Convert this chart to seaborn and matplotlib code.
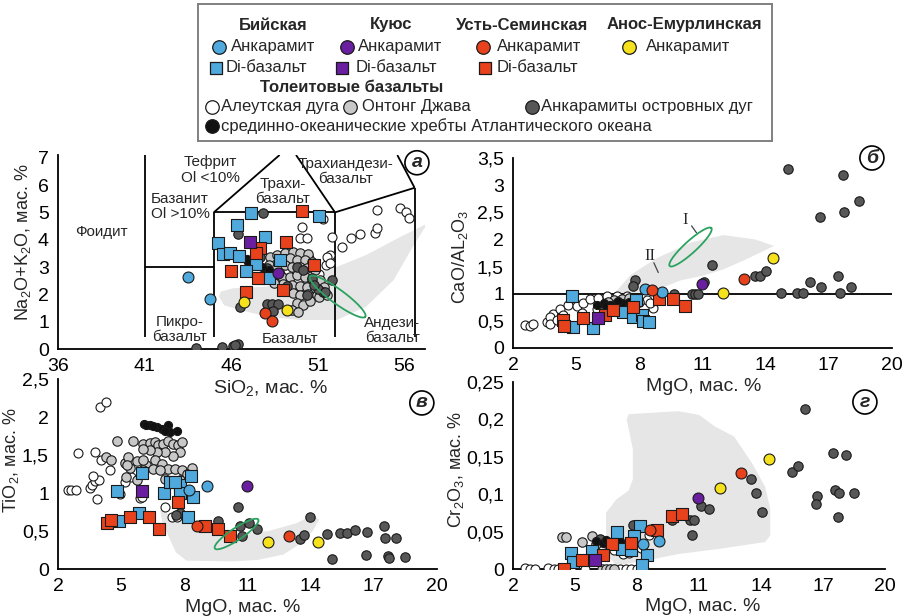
import matplotlib
matplotlib.use("Agg")
import matplotlib.pyplot as plt
import numpy as np
import seaborn as sns

BLUE = "#4fa9dc"
PURPLE = "#6a1ea0"
RED = "#e8421d"
YELLOW = "#f6e21c"
DARK = "#575757"
LIGHT = "#c8c8c8"
WHITE = "#ffffff"
BLACK = "#111111"
FIELD = "#e6e6e6"
GREEN = "#2ba360"

# ---------------- panel a: TAS (SiO2 vs Na2O+K2O)
bii_ank_a_x = [43.5, 44.8]
bii_ank_a_y = [2.65, 1.82]
bii_di_a_x = [47.16, 51.05, 46.33, 47.97, 45.27, 45.56, 45.94, 46.48, 47.45, 46.85, 48.83, 48.16]
bii_di_a_y = [4.97, 4.88, 4.52, 4.11, 3.87, 3.47, 3.50, 3.42, 3.10, 2.86, 3.26, 2.61]
kuy_ank_a_x, kuy_ank_a_y = [48.68], [2.77]
kuy_di_a_x, kuy_di_a_y = [47.10], [3.93]
ust_ank_a_x, ust_ank_a_y = [47.97, 48.35], [1.31, 1.02]
ust_di_a_x = [50.09, 49.16, 47.64, 47.45, 45.98, 47.58, 49.02, 50.76, 46.87]
ust_di_a_y = [5.05, 3.90, 3.71, 3.50, 2.86, 2.61, 2.16, 3.08, 2.07]
anos_ank_a_x, anos_ank_a_y = [46.75, 49.25], [1.71, 1.43]
aleut_a_x = [50.09, 50.0, 50.4, 51.3, 51.8, 52.4, 52.9, 53.45, 54.3, 54.4, 54.4, 55.77, 56.1, 56.25,
             51.7, 51.5, 49.3, 49.0, 50.5, 50.3, 51.05, 50.7, 51.53, 51.72, 49.3]
aleut_a_y = [4.48, 4.08, 4.08, 4.75, 4.11, 3.75, 4.08, 4.2, 4.26, 5.09, 4.42, 5.15, 5.03, 4.79,
             3.44, 3.08, 2.89, 2.59, 3.32, 3.2, 2.75, 2.45, 3.38, 3.14, 2.59]
ontong_a_x = [48.25, 48.64, 49.12, 49.60, 49.99, 50.47, 49.41, 49.80, 50.28, 50.66, 48.16, 48.64, 49.12,
              49.51, 49.99, 50.37, 50.86, 48.45, 48.93, 49.41, 49.80, 50.28, 50.66, 51.14, 49.02, 49.51,
              49.99, 50.37, 50.86, 51.34, 49.60, 49.99, 50.47, 50.95, 49.80, 50.18, 50.57, 49.51, 49.89,
              51.05, 51.53, 48.45, 48.06]
ontong_a_y = [3.38, 3.44, 3.50, 3.56, 3.50, 3.47, 3.32, 3.26, 3.26, 3.20, 3.08, 3.01, 3.08,
              3.01, 3.01, 2.95, 2.89, 2.71, 2.65, 2.65, 2.71, 2.65, 2.59, 2.53, 2.37, 2.34,
              2.32, 2.28, 2.25, 2.28, 2.04, 1.98, 2.00, 1.98, 1.67, 1.61, 1.76, 1.43, 1.37,
              1.92, 1.98, 2.40, 2.65]
arc_a_x = [47.83, 46.39, 48.06, 48.35, 48.7, 48.4, 46.5, 49.8, 51.3, 51.0, 51.8, 50.4, 48.06, 47.2,
           47.65, 49.2, 50.7, 43.98, 45.46, 46.13, 46.42, 46.25, 50.18, 50.8, 51.43]
arc_a_y = [4.97, 4.2, 1.63, 1.63, 1.63, 1.4, 1.52, 3.0, 2.1, 2.2, 2.53, 1.98, 2.98, 3.22,
           3.35, 2.3, 2.55, 0.05, 0.09, 0.11, 0.18, 0.14, 2.89, 2.34, 2.1]
morb_a_x = [46.9, 47.2, 47.5, 47.8, 48.2, 47.0]
morb_a_y = [3.3, 3.25, 3.1, 3.0, 2.9, 3.2]
field_a_x = [45.3, 45.6, 46.5, 48.0, 50.0, 52.1, 53.8, 55.4, 56.5, 57.2, 57.2, 55.8, 53.8, 51.9, 50.0, 48.0, 46.1, 45.4]
field_a_y = [1.92, 1.6, 1.43, 1.2, 1.06, 1.06, 1.55, 2.53, 3.75, 4.45, 4.55, 4.11, 3.44, 2.95, 2.53, 2.28, 2.22, 2.1]
tas_lines = [
    ([41, 41], [0.45, 7.1]), ([41, 45], [3, 3]), ([45, 45], [0.45, 5]), ([45, 52], [5, 5]),
    ([52, 52], [0.45, 5]), ([45, 48.8], [5, 7.1]), ([52, 49.75], [5, 7.1]), ([52, 56.6], [5, 5.9]),
    ([56.6, 56.6], [0.45, 5.9]), ([56.6, 55.6], [5.9, 7.1]),
]
tas_names = [
    ("Фоидит", 38.5, 4.3), ("Тефрит\nOl <10%", 44.8, 6.55), ("Базанит\nOl >10%", 43.05, 5.2),
    ("Трахи-\nбазальт", 49.0, 5.76), ("Трахиандези-\nбазальт", 52.6, 6.48), ("Пикро-\nбазальт", 43.05, 0.7),
    ("Базальт", 49.4, 0.35), ("Андези-\nбазальт", 55.3, 0.67),
]

# ---------------- panel б: MgO vs CaO/Al2O3
bii_ank_b_x, bii_ank_b_y = [8.27, 9.06], [1.09, 1.03]
bii_di_b_x = [4.79, 4.87, 5.81, 7.24, 7.71, 7.83, 8.11, 8.19, 8.46]
bii_di_b_y = [0.96, 0.39, 0.36, 0.67, 0.58, 0.88, 0.61, 0.49, 0.48]
kuy_ank_b_x, kuy_ank_b_y = [10.99], [1.18]
kuy_di_b_x, kuy_di_b_y = [6.02], [0.56]
ust_ank_b_x, ust_ank_b_y = [8.61, 12.98], [1.06, 1.28]
ust_di_b_x = [4.39, 4.41, 5.34, 6.37, 6.76, 7.71, 8.93, 9.61, 10.17]
ust_di_b_y = [0.52, 0.41, 0.55, 0.61, 0.70, 0.76, 0.90, 0.91, 0.77]
anos_ank_b_x, anos_ank_b_y = [11.98, 14.33], [1.01, 1.66]
arc_b_x = [15.07, 17.68, 18.44, 17.73, 16.57, 11.43, 7.79, 7.71, 13.49, 13.72, 14.0, 14.75, 15.47, 15.75,
           16.1, 16.65, 17.44, 17.52, 18.04, 10.48, 10.64, 10.8, 11.08, 9.66]
arc_b_y = [3.30, 3.19, 2.70, 2.50, 2.41, 1.53, 1.26, 1.15, 1.32, 1.32, 1.42, 1.01, 1.01, 1.01,
           1.21, 1.12, 1.32, 1.01, 1.12, 1.0, 1.0, 1.0, 1.22, 1.0]
aleut_b_x = [2.57, 2.81, 2.93, 3.60, 3.91, 4.23, 4.63, 5.02, 5.34, 5.65, 6.05, 6.45, 6.92, 7.40, 7.87, 8.35,
             8.66, 6.6, 7.24, 6.29, 5.26, 5.97, 3.76, 4.39, 8.5, 3.75, 4.1]
aleut_b_y = [0.43, 0.40, 0.45, 0.47, 0.63, 0.71, 0.80, 0.77, 0.83, 0.90, 0.93, 0.96, 0.95, 0.95, 0.93, 0.89,
             0.74, 0.80, 0.80, 0.77, 0.64, 0.71, 0.58, 0.61, 0.83, 0.45, 0.52]
ontong_b_x = [6.8, 7.2, 7.5, 7.8, 8.0, 6.5]
ontong_b_y = [0.88, 0.90, 0.92, 0.90, 0.85, 0.85]
morb_b_x = [6.0, 6.3, 6.6, 6.9, 7.2, 7.5, 6.4, 6.8, 7.0]
morb_b_y = [0.80, 0.82, 0.80, 0.83, 0.82, 0.85, 0.78, 0.78, 0.86]
field_b_x = [6.8, 7.6, 8.8, 10.5, 12.0, 13.5, 14.4, 13.0, 12.0, 11.0, 10.0, 9.0, 8.0, 7.0]
field_b_y = [1.0, 1.35, 1.65, 1.95, 2.08, 2.0, 1.88, 1.62, 1.45, 1.33, 1.25, 1.1, 1.02, 0.98]

# ---------------- panel в: MgO vs TiO2
bii_ank_c_x, bii_ank_c_y = [8.23, 9.06], [1.04, 1.09]
bii_di_c_x = [4.78, 6.01, 7.03, 7.31, 7.79, 7.79, 8.30, 8.42, 5.85, 4.90, 8.18, 7.58]
bii_di_c_y = [1.02, 1.26, 1.00, 1.15, 1.11, 1.00, 1.22, 0.95, 0.74, 0.63, 0.69, 1.15]
kuy_ank_c_x, kuy_ank_c_y = [10.96], [1.09]
kuy_di_c_x, kuy_di_c_y = [6.01], [1.02]
ust_ank_c_x, ust_ank_c_y = [8.58, 12.99], [0.57, 0.43]
ust_di_c_x = [4.33, 4.54, 5.41, 6.33, 6.79, 7.71, 8.98, 9.61, 10.17]
ust_di_c_y = [0.60, 0.65, 0.69, 0.68, 0.52, 0.88, 0.57, 0.53, 0.44]
anos_ank_c_x, anos_ank_c_y = [11.99, 14.34], [0.35, 0.35]
arc_c_x = [10.56, 10.64, 11.09, 11.44, 10.72, 9.61, 7.79, 7.60, 13.97, 13.50, 13.69, 14.77, 15.40, 15.72,
           16.11, 16.67, 17.49, 17.54, 18.06, 15.00, 16.64, 17.67, 17.70, 18.46]
arc_c_y = [0.82, 0.57, 0.60, 0.53, 0.43, 0.63, 0.74, 0.71, 0.68, 0.39, 0.45, 0.46, 0.47, 0.48,
           0.51, 0.49, 0.56, 0.41, 0.41, 0.13, 0.18, 0.17, 0.15, 0.16]
aleut_c_x = [3.98, 4.30, 2.48, 2.64, 2.84, 2.95, 3.75, 4.46, 3.83, 3.50, 3.60, 3.75, 3.96, 5.49, 5.89,
             4.94, 7.08, 7.40, 7.63, 4.06, 3.67, 6.0, 5.2]
aleut_c_y = [2.13, 2.20, 1.04, 1.04, 1.04, 1.53, 1.54, 1.30, 0.92, 1.06, 1.10, 1.16, 1.17, 1.21, 0.93,
             0.99, 0.82, 0.69, 0.69, 1.44, 1.22, 0.95, 1.15]
ontong_c_x = [4.78, 5.54, 6.05, 6.36, 6.60, 6.76, 7.0, 7.24, 7.47, 7.71, 7.87, 7.79, 7.47, 7.08, 6.68, 6.36,
              6.05, 6.60, 6.92, 7.24, 7.55, 7.87, 8.35, 6.20, 6.52, 6.84, 6.05, 8.11, 7.79, 7.08, 5.73,
              5.17, 5.41, 4.30, 4.54, 5.73, 5.33, 5.28, 5.25, 6.05]
ontong_c_y = [1.68, 1.68, 1.65, 1.66, 1.67, 1.63, 1.65, 1.69, 1.65, 1.63, 1.67, 1.54, 1.49, 1.54, 1.54, 1.56,
              1.58, 1.43, 1.38, 1.32, 1.31, 1.30, 1.33, 1.37, 1.32, 1.30, 1.30, 1.25, 1.17, 1.19, 1.17,
              1.40, 1.33, 1.47, 1.43, 1.42, 1.47, 1.37, 1.21, 1.43]
morb_c_x = [6.08, 6.36, 6.68, 6.92, 7.23, 7.31, 7.63, 7.07, 6.2, 6.5]
morb_c_y = [1.91, 1.89, 1.87, 1.84, 1.89, 1.80, 1.82, 1.82, 1.90, 1.88]
field_c_x = [6.85, 7.5, 8.7, 10.5, 12.0, 13.3, 14.1, 14.4, 14.1, 13.5, 12.7, 11.5, 10.3, 8.1, 7.6, 7.3, 6.95]
field_c_y = [0.78, 0.68, 0.55, 0.46, 0.50, 0.60, 0.71, 0.65, 0.50, 0.33, 0.19, 0.12, 0.10, 0.11, 0.22, 0.40, 0.62]

# ---------------- panel г: MgO vs Cr2O3
bii_ank_d_x, bii_ank_d_y = [9.06, 8.30], [0.037, 0.033]
bii_di_d_x = [7.05, 8.13, 7.86, 8.46, 8.25, 7.28, 7.70, 5.83, 4.79, 4.90]
bii_di_d_y = [0.050, 0.057, 0.044, 0.019, 0.006, 0.027, 0.026, 0.024, 0.022, 0.010]
kuy_ank_d_x, kuy_ank_d_y = [10.96], [0.095]
kuy_di_d_x, kuy_di_d_y = [5.99], [0.012]
ust_ank_d_x, ust_ank_d_y = [8.62, 13.03], [0.052, 0.129]
ust_di_d_x = [9.67, 10.19, 8.99, 6.80, 7.73, 6.36, 5.36, 4.47]
ust_di_d_y = [0.071, 0.073, 0.052, 0.033, 0.035, 0.019, 0.012, 0.0]
anos_ank_d_x, anos_ank_d_y = [12.01, 14.40], [0.108, 0.147]
arc_d_x = [16.13, 17.50, 18.10, 15.48, 15.80, 17.58, 17.77, 18.50, 16.69, 16.64, 17.71, 13.54, 13.75, 14.06,
           11.12, 11.48, 10.56, 10.77, 10.64, 9.67, 7.81, 6.2, 6.5]
arc_d_y = [0.214, 0.155, 0.152, 0.130, 0.138, 0.106, 0.101, 0.101, 0.098, 0.087, 0.070, 0.120, 0.102, 0.076,
           0.084, 0.080, 0.066, 0.066, 0.046, 0.065, 0.059, 0.040, 0.035]
aleut_d_x = [2.57, 2.81, 3.05, 3.70, 3.99, 4.20, 4.83, 5.47, 7.20, 7.45, 7.70, 8.00, 6.9, 7.3, 7.6, 7.9, 8.2, 8.6]
aleut_d_y = [0.002, 0.0, 0.0, 0.002, 0.0, 0.0, 0.0, 0.0, 0.0, 0.0, 0.0, 0.0, 0.025, 0.02, 0.022, 0.03, 0.028, 0.045]
ontong_d_x = [4.37, 4.58, 5.34, 5.83, 6.28, 6.30, 6.50, 6.70, 6.90, 6.0, 7.2, 7.6]
ontong_d_y = [0.043, 0.043, 0.036, 0.044, 0.039, 0.0, 0.0, 0.0, 0.0, 0.033, 0.030, 0.028]
morb_d_x = [6.04, 6.36, 6.68, 7.00, 7.41, 7.73, 6.52, 7.17]
morb_d_y = [0.037, 0.035, 0.036, 0.032, 0.034, 0.036, 0.039, 0.037]
field_d_x = [7.6, 10.0, 11.0, 11.8, 12.7, 13.6, 14.2, 14.45, 14.45, 14.2, 12.0, 10.0, 8.2, 7.0, 6.5, 6.5,
             7.0, 7.6, 7.8, 7.8, 7.5]
field_d_y = [0.207, 0.211, 0.206, 0.19, 0.177, 0.14, 0.11, 0.08, 0.045, 0.036, 0.027, 0.02, 0.01, 0.005,
             0.02, 0.075, 0.093, 0.105, 0.12, 0.16, 0.2]

# green contours: centre, half major axis vector, half minor axis vector (data units)
ring_a = ((52.15, 1.92), (1.6, -0.74), (0.24, 0.21))
ring_b = ((10.43, 1.86), (0.99, 0.35), (-0.19, 0.081))
ring_c = ((10.48, 0.46), (1.03, 0.19), (-0.159, 0.066))

sns.set_style("white")
plt.rcParams["font.family"] = ["Liberation Sans", "DejaVu Sans"]
plt.rcParams["mathtext.default"] = "regular"

S_CIRC, S_SQ, S_ARC, S_WHITE, S_LIGHT, S_MORB = 62, 72, 46, 42, 46, 34


def pts(ax, xs, ys, face, marker="o", size=S_CIRC, z=3):
    sns.scatterplot(x=np.asarray(xs, float), y=np.asarray(ys, float), ax=ax, color=face, marker=marker,
                    s=size, edgecolor="#1a1a1a", linewidth=0.8, zorder=z, legend=False)


def ring(ax, spec):
    (cx, cy), (ax_, ay), (bx, by) = spec
    t = np.linspace(0, 2 * np.pi, 200)
    ax.plot(cx + ax_ * np.cos(t) + bx * np.sin(t), cy + ay * np.cos(t) + by * np.sin(t),
            color=GREEN, lw=1.3, zorder=6)


def comma(vals, fmt="{:g}"):
    return [fmt.format(v).replace(".", ",") for v in vals]


def style(ax, xlim, ylim, xticks, yticks, xlabel, ylabel, xl_pos, yl_pos):
    ax.set_xlim(xlim)
    ax.set_ylim(ylim)
    ax.patch.set_alpha(0)
    sns.despine(ax=ax)
    for s in ("left", "bottom"):
        ax.spines[s].set_linewidth(1.3)
        ax.spines[s].set_color("black")
    ax.set_xticks(xticks)
    ax.set_xticklabels(comma(xticks))
    ax.set_yticks(yticks)
    ax.set_yticklabels(comma(yticks))
    ax.tick_params(direction="inout", length=7, width=1.2, labelsize=14, pad=3, colors="black")
    ax.set_xlabel(xlabel, fontsize=14)
    ax.set_ylabel(ylabel, fontsize=13)
    ax.xaxis.set_label_coords(*xl_pos)
    ax.yaxis.set_label_coords(*yl_pos)
    ax.xaxis.label.set_va("center")
    ax.yaxis.label.set_va("center")


def badge(ax, letter, x, y):
    ax.text(x, y, letter, transform=ax.transAxes, ha="center", va="center", fontsize=14,
            fontweight="bold", fontstyle="italic", zorder=10, clip_on=False,
            bbox=dict(boxstyle="circle,pad=0.18", fc="white", ec="black", lw=1.2))


def groups(ax, d):
    # background reference series first, then the studied rocks on top
    pts(ax, d["aleut"][0], d["aleut"][1], WHITE, size=S_WHITE)
    pts(ax, d["ontong"][0], d["ontong"][1], LIGHT, size=S_LIGHT)
    pts(ax, d["arc"][0], d["arc"][1], DARK, size=S_ARC)
    pts(ax, d["morb"][0], d["morb"][1], BLACK, size=S_MORB)
    pts(ax, d["bii_di"][0], d["bii_di"][1], BLUE, "s", S_SQ, 4)
    pts(ax, d["ust_di"][0], d["ust_di"][1], RED, "s", S_SQ, 4)
    pts(ax, d["kuy_di"][0], d["kuy_di"][1], PURPLE, "s", S_SQ, 4)
    pts(ax, d["bii_ank"][0], d["bii_ank"][1], BLUE, z=4)
    pts(ax, d["kuy_ank"][0], d["kuy_ank"][1], PURPLE, z=4)
    pts(ax, d["ust_ank"][0], d["ust_ank"][1], RED, z=4)
    pts(ax, d["anos_ank"][0], d["anos_ank"][1], YELLOW, z=4)


fig = plt.figure(figsize=(9.12, 6.16), dpi=100)
W, H = 912, 616


def box(l, r, t, b):
    return [l / W, 1 - b / H, (r - l) / W, (b - t) / H]


ax_a = fig.add_axes(box(58, 425, 155, 349))
ax_b = fig.add_axes(box(513, 892, 158, 348))
ax_c = fig.add_axes(box(58, 437, 379, 569))
ax_d = fig.add_axes(box(513, 885, 382, 569))

# panel a
ax_a.fill(field_a_x, field_a_y, color=FIELD, lw=0, zorder=1)
for xs, ys in tas_lines:
    ax_a.plot(xs, ys, color="black", lw=1.3, zorder=2, solid_capstyle="butt")
for name, x, y in tas_names:
    ax_a.text(x, y, name, ha="center", va="center", fontsize=11, linespacing=1.1, zorder=2)
groups(ax_a, dict(aleut=(aleut_a_x, aleut_a_y), ontong=(ontong_a_x, ontong_a_y), arc=(arc_a_x, arc_a_y),
                  morb=(morb_a_x, morb_a_y), bii_di=(bii_di_a_x, bii_di_a_y), ust_di=(ust_di_a_x, ust_di_a_y),
                  kuy_di=(kuy_di_a_x, kuy_di_a_y), bii_ank=(bii_ank_a_x, bii_ank_a_y),
                  kuy_ank=(kuy_ank_a_x, kuy_ank_a_y), ust_ank=(ust_ank_a_x, ust_ank_a_y),
                  anos_ank=(anos_ank_a_x, anos_ank_a_y)))
ring(ax_a, ring_a)
style(ax_a, (36, 57.2), (0, 7.1), [36, 41, 46, 51, 56], list(range(8)),
      "SiO$_2$, мас. %", "Na$_2$O+K$_2$O, мас. %", (0.578, -0.2), (-0.095, 0.55))
badge(ax_a, "а", 0.978, 0.96)

# panel б
ax_b.fill(field_b_x, field_b_y, color=FIELD, lw=0, zorder=1)
ax_b.axhline(1.0, color="black", lw=1.3, zorder=2)
groups(ax_b, dict(aleut=(aleut_b_x, aleut_b_y), ontong=(ontong_b_x, ontong_b_y), arc=(arc_b_x, arc_b_y),
                  morb=(morb_b_x, morb_b_y), bii_di=(bii_di_b_x, bii_di_b_y), ust_di=(ust_di_b_x, ust_di_b_y),
                  kuy_di=(kuy_di_b_x, kuy_di_b_y), bii_ank=(bii_ank_b_x, bii_ank_b_y),
                  kuy_ank=(kuy_ank_b_x, kuy_ank_b_y), ust_ank=(ust_ank_b_x, ust_ank_b_y),
                  anos_ank=(anos_ank_b_x, anos_ank_b_y)))
ring(ax_b, ring_b)
ax_b.text(10.17, 2.36, "I", family="Liberation Serif", fontsize=12, ha="center", va="center")
ax_b.plot([10.48, 10.72], [2.25, 2.12], color="#444444", lw=0.9)
ax_b.text(8.5, 1.69, "II", family="Liberation Serif", fontsize=12, ha="center", va="center")
ax_b.plot([8.69, 8.9], [1.57, 1.39], color="#444444", lw=0.9)
style(ax_b, (2, 20), (0, 3.5), [2, 5, 8, 11, 14, 17, 20], [0, 0.5, 1, 1.5, 2, 2.5, 3, 3.5],
      "MgO, мас. %", "CaO/AL$_2$O$_3$", (0.504, -0.205), (-0.14, 0.48))
badge(ax_b, "б", 0.947, 1.0)

# panel в
ax_c.fill(field_c_x, field_c_y, color=FIELD, lw=0, zorder=1)
groups(ax_c, dict(aleut=(aleut_c_x, aleut_c_y), ontong=(ontong_c_x, ontong_c_y), arc=(arc_c_x, arc_c_y),
                  morb=(morb_c_x, morb_c_y), bii_di=(bii_di_c_x, bii_di_c_y), ust_di=(ust_di_c_x, ust_di_c_y),
                  kuy_di=(kuy_di_c_x, kuy_di_c_y), bii_ank=(bii_ank_c_x, bii_ank_c_y),
                  kuy_ank=(kuy_ank_c_x, kuy_ank_c_y), ust_ank=(ust_ank_c_x, ust_ank_c_y),
                  anos_ank=(anos_ank_c_x, anos_ank_c_y)))
ring(ax_c, ring_c)
style(ax_c, (2, 20), (0, 2.5), [2, 5, 8, 11, 14, 17, 20], [0, 0.5, 1, 1.5, 2, 2.5],
      "MgO, мас. %", "TiO$_2$, мас. %", (0.488, -0.2), (-0.125, 0.57))
badge(ax_c, "в", 0.96, 0.874)

# panel г
ax_d.fill(field_d_x, field_d_y, color=FIELD, lw=0, zorder=1)
groups(ax_d, dict(aleut=(aleut_d_x, aleut_d_y), ontong=(ontong_d_x, ontong_d_y), arc=(arc_d_x, arc_d_y),
                  morb=(morb_d_x, morb_d_y), bii_di=(bii_di_d_x, bii_di_d_y), ust_di=(ust_di_d_x, ust_di_d_y),
                  kuy_di=(kuy_di_d_x, kuy_di_d_y), bii_ank=(bii_ank_d_x, bii_ank_d_y),
                  kuy_ank=(kuy_ank_d_x, kuy_ank_d_y), ust_ank=(ust_ank_d_x, ust_ank_d_y),
                  anos_ank=(anos_ank_d_x, anos_ank_d_y)))
style(ax_d, (2, 20), (0, 0.25), [2, 5, 8, 11, 14, 17, 20], [0, 0.05, 0.1, 0.15, 0.2, 0.25],
      "MgO, мас. %", "Cr$_2$O$_3$, мас. %", (0.51, -0.203), (-0.152, 0.535))
badge(ax_d, "г", 0.946, 0.893)

# ---------------- legend box (pixel layout)
lg = fig.add_axes(box(198, 772, 4, 141))
lg.set_xlim(198, 772)
lg.set_ylim(141, 4)
lg.set_xticks([])
lg.set_yticks([])
for s in lg.spines.values():
    s.set_color("#808080")
    s.set_linewidth(1.4)

headers = [("Бийская", 273, 25), ("Куюс", 391, 25), ("Усть-Семинская", 522, 25), ("Анос-Емурлинская", 684, 25),
           ("Толеитовые базальты", 352, 88)]
for txt, x, y in headers:
    lg.text(x, y, txt, ha="center", va="center", fontsize=12, fontweight="bold")

entries = [
    (BLUE, "o", 219, 47, "Анкарамит", 231), (PURPLE, "o", 347, 47, "Анкарамит", 358),
    (RED, "o", 483, 47, "Анкарамит", 497), (YELLOW, "o", 629, 47, "Анкарамит", 646),
    (BLUE, "s", 216, 68, "Di-базальт", 226), (PURPLE, "s", 342, 68, "Di-базальт", 356),
    (RED, "s", 485, 68, "Di-базальт", 497),
    (WHITE, "o", 212, 107, "Алеутская дуга", 221), (LIGHT, "o", 350, 107, "Онтонг Джава", 362),
    (DARK, "o", 532, 107, "Анкарамиты островных дуг", 541),
    (BLACK, "o", 212, 126, "срединно-океанические хребты Атлантического океана", 221),
]
for face, mk, mx, my, txt, tx in entries:
    lg.scatter([mx], [my], s=80 if mk == "s" else 95, c=face, marker=mk,
               edgecolors="#1a1a1a", linewidths=0.9)
    lg.text(tx, my, txt, ha="left", va="center", fontsize=12)

fig.savefig("out.png", dpi=100)
